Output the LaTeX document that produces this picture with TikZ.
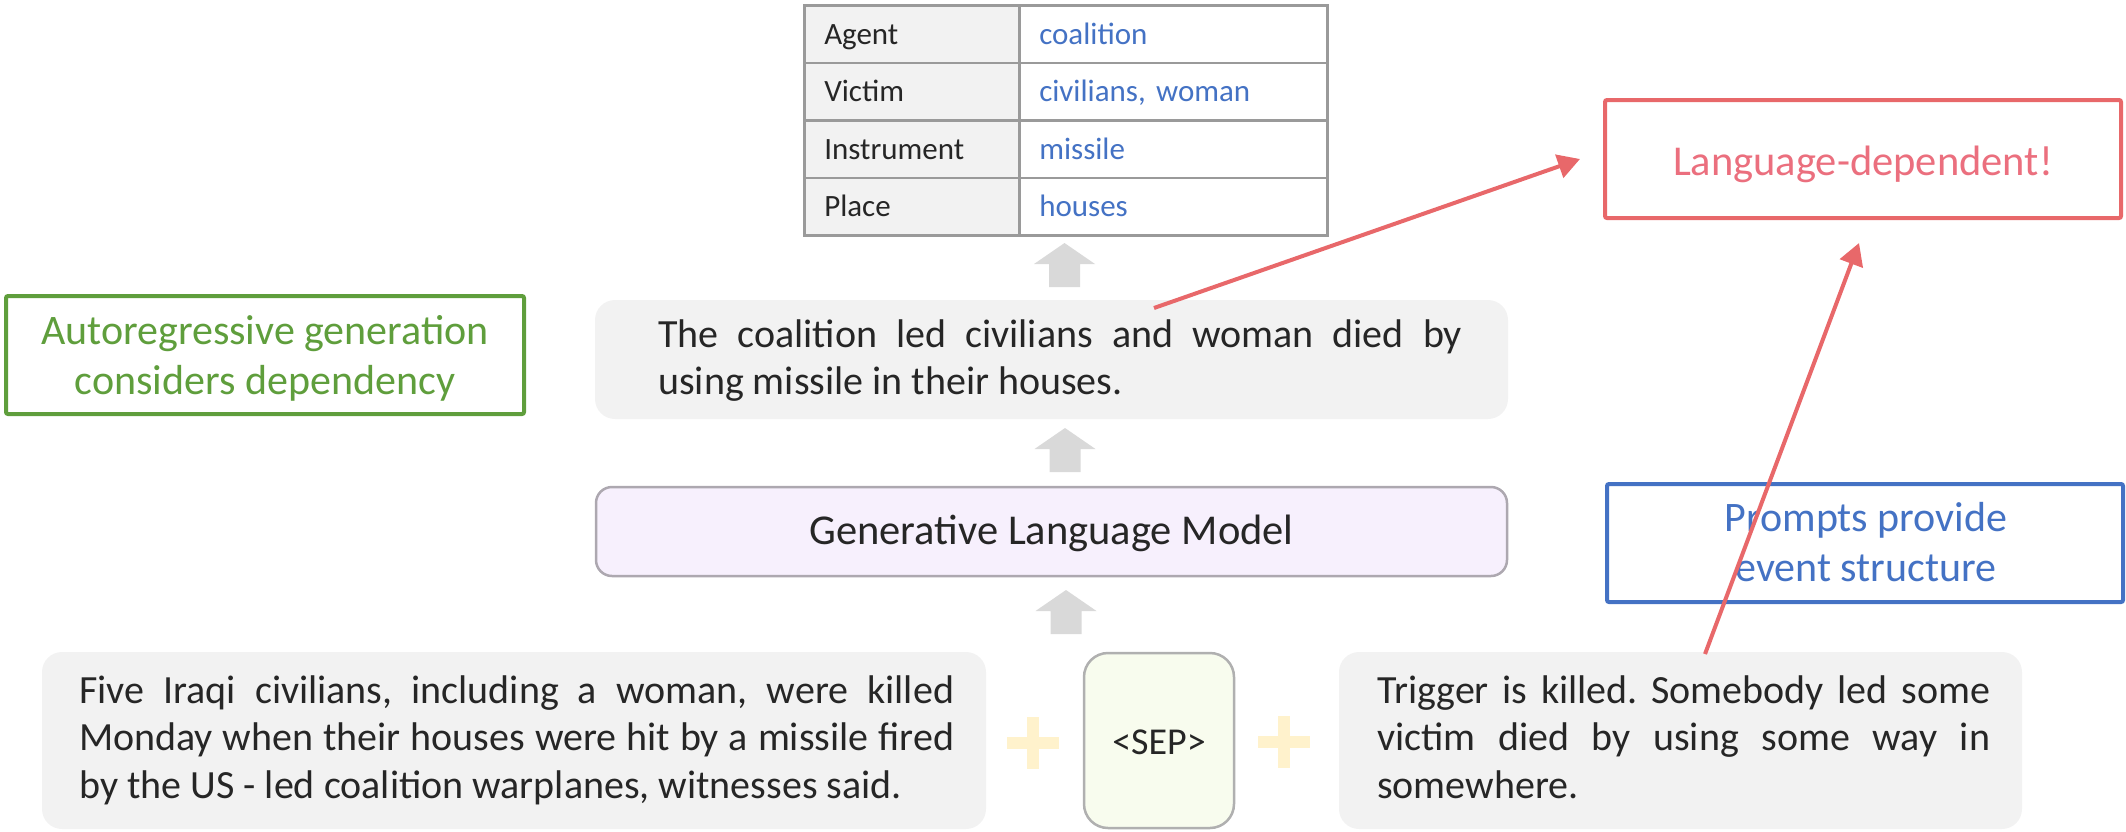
\documentclass[tikz,border=0pt]{standalone}
\usepackage{fontspec}
\setmainfont{Carlito}
\usetikzlibrary{arrows.meta}
\definecolor{boxgray}{HTML}{F2F2F2}
\definecolor{tblline}{HTML}{9A9A9A}
\definecolor{txtdark}{HTML}{262626}
\definecolor{tblblue}{HTML}{4472C4}
\definecolor{annogreen}{HTML}{5F9E3C}
\definecolor{annored}{HTML}{E8686A}
\definecolor{annoredtxt}{HTML}{EB6F7E}
\definecolor{annoblue}{HTML}{4472C4}
\definecolor{glmfill}{HTML}{F7F0FD}
\definecolor{glmline}{HTML}{ADA8B0}
\definecolor{sepfill}{HTML}{F8FCEE}
\definecolor{sepline}{HTML}{B0B0B0}
\definecolor{plusc}{HTML}{FFF2CC}
\definecolor{arrowgray}{HTML}{D9D9D9}
\frenchspacing
\begin{document}
\frenchspacing
\begin{tikzpicture}[x=1pt,y=-1pt,
  bodyf/.style={font=\fontsize{40}{47.5}\selectfont\frenchspacing, text=txtdark},
  annof/.style={font=\fontsize{42}{50}\selectfont},
  cellL/.style={draw=tblline, line width=2.5pt, fill=boxgray, minimum height=57.5pt,
    text width=175pt, inner xsep=20pt, inner ysep=0pt, align=left,
    text height=22pt, text depth=2pt, font=\fontsize{31}{36}\selectfont\frenchspacing, text=txtdark},
  cellR/.style={draw=tblline, line width=2.5pt, fill=white, minimum height=57.5pt,
    text width=268pt, inner xsep=20pt, inner ysep=0pt, align=left,
    text height=22pt, text depth=2pt, font=\fontsize{31}{36}\selectfont\frenchspacing, text=tblblue},
  graybox/.style={fill=boxgray, rounded corners=20pt, inner sep=0pt},
  annobox/.style={line width=4pt, rounded corners=2pt, fill=white, inner sep=0pt},
  redarrow/.style={draw=annored, line width=4pt, -{Triangle[length=22pt,width=24pt]}},
  txt/.style={inner sep=0pt}
]
\useasboundingbox (0,0) rectangle (2126,831);

% table
\node[cellL, anchor=north west] (t1a) at (803,4) {Agent};
\node[cellR, anchor=north west] (t1b) at (1018,4) {coalition};
\node[cellL, anchor=north west] (t2a) at (803,61.5) {Victim};
\node[cellR, anchor=north west] (t2b) at (1018,61.5) {civilians, woman};
\node[cellL, anchor=north west] (t3a) at (803,119) {Instrument};
\node[cellR, anchor=north west] (t3b) at (1018,119) {missile};
\node[cellL, anchor=north west] (t4a) at (803,176.5) {Place};
\node[cellR, anchor=north west] (t4b) at (1018,176.5) {houses};

% generated sentence
\node[graybox, minimum width=913pt, minimum height=119pt] (sentbox) at (1051.5,359.5) {};
\node[txt, bodyf, anchor=base west] (senttext) at (658,347)
  {\parbox[t]{804pt}{\makebox[804pt][s]{The coalition led civilians and woman died by}\\using missile in their houses.}};

% generative LM
\node[draw=glmline, fill=glmfill, line width=2.5pt, rounded corners=16pt,
  minimum width=911pt, minimum height=89pt, inner sep=0pt,
  font=\fontsize{42.5}{48}\selectfont, text=txtdark,
  text height=30pt, text depth=4pt] (glm) at (1051.5,531.5) {Generative Language Model};

% inputs
\node[graybox, minimum width=944pt, minimum height=177pt] (srcbox) at (514,740.5) {};
\node[txt, bodyf, anchor=base west] (srctext) at (79,703)
  {\parbox[t]{875pt}{\makebox[875pt][s]{Five Iraqi civilians, including a woman, were killed}\\\makebox[875pt][s]{Monday when their houses were hit by a missile fired}\\by the US - led coalition warplanes, witnesses said.}};

\node[draw=sepline, fill=sepfill, line width=2.5pt, rounded corners=24pt,
  minimum width=150pt, minimum height=175pt, inner sep=0pt,
  font=\fontsize{38}{44}\selectfont, text=txtdark,
  text height=32pt, text depth=4pt] (sep) at (1159,740.5) {<SEP>};

\node[graybox, minimum width=683pt, minimum height=177pt] (promptbox) at (1680.5,740.5) {};
\node[txt, bodyf, anchor=base west] (prompttext) at (1377,703)
  {\parbox[t]{613pt}{\makebox[613pt][s]{Trigger is killed. Somebody led some}\\\makebox[613pt][s]{victim died by using some way in}\\somewhere.}};

% plus signs
\fill[plusc] (1007,737) rectangle (1059,749);
\fill[plusc] (1027,717) rectangle (1039,769);
\fill[plusc] (1258,736) rectangle (1310,748);
\fill[plusc] (1278,716) rectangle (1290,768);

% gray block arrows
\coordinate (a1tip) at (1064.5,243);
\coordinate (a2tip) at (1065,428);
\coordinate (a3tip) at (1066,590);
\foreach \t in {a1tip,a2tip,a3tip}{
  \fill[arrowgray] (\t) -- ++(30.5,21) -- ++(-15,0) -- ++(0,23) -- ++(-31,0) -- ++(0,-23) -- ++(-15,0) -- cycle;
}

% annotations
\node[annobox, draw=annogreen, minimum width=518pt, minimum height=118pt] (greenbox) at (265,355) {};
\node[txt, annof, text=annogreen, anchor=base] (greentext) at (265,344)
  {\parbox[t]{510pt}{\centering Autoregressive generation\\considers dependency}};

\node[annobox, draw=annored, minimum width=516pt, minimum height=118pt,
  font=\fontsize{42.5}{48}\selectfont, text=annoredtxt,
  text height=34pt, text depth=2pt] (langbox) at (1863,159) {Language-dependent!};

\node[annobox, draw=annoblue, minimum width=516pt, minimum height=118pt] (bluebox) at (1865,543) {};
\node[txt, annof, text=annoblue, anchor=base] (bluetext) at (1866,531)
  {\parbox[t]{500pt}{\centering Prompts provide\\event structure}};

% red arrows
\coordinate (r1s) at (1154,308);
\coordinate (r1e) at (1580,159);
\coordinate (r2s) at (1705,654);
\coordinate (r2e) at (1859,243);
\draw[redarrow] (r1s) -- (r1e);
\draw[redarrow] (r2s) -- (r2e);
\end{tikzpicture}
\end{document}
